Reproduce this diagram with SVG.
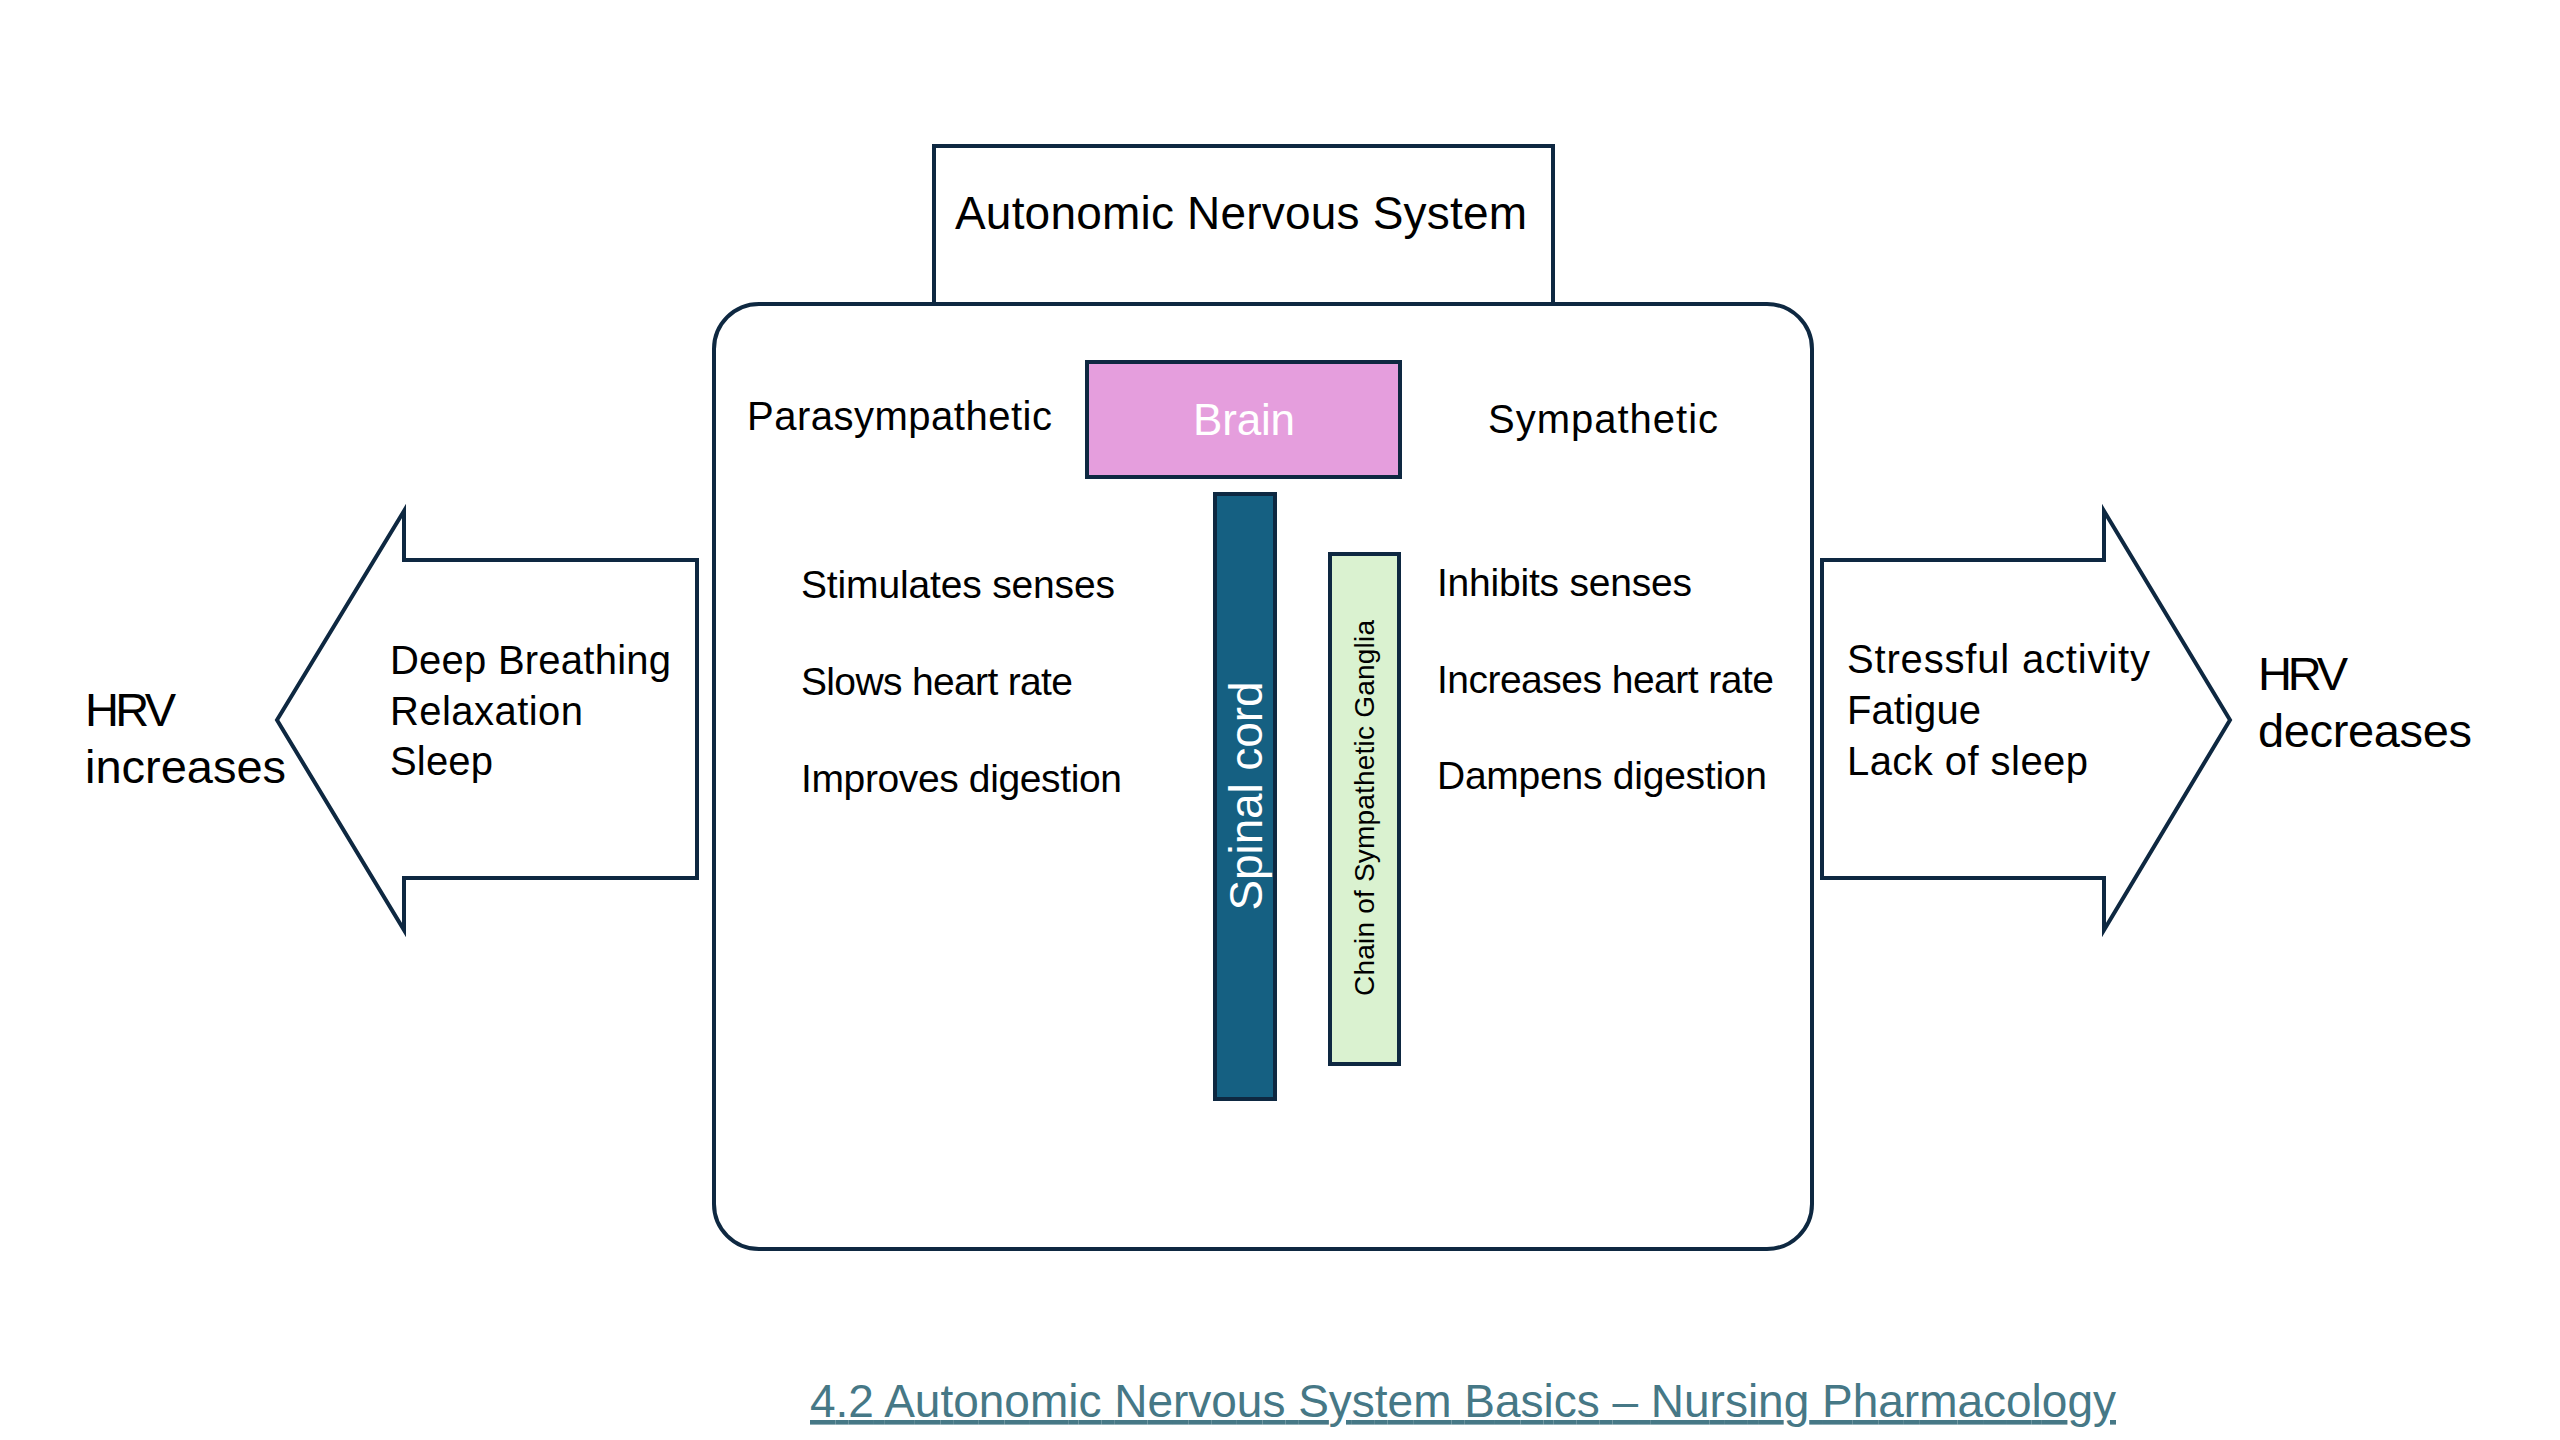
<svg xmlns="http://www.w3.org/2000/svg" width="2560" height="1440" viewBox="0 0 2560 1440">
<style>
  .ln { stroke: #0E2841; stroke-width: 4; stroke-linejoin: miter; }
  .t { font-family: "Liberation Sans", Arial, sans-serif; fill: #000000; }
  .b { font-size: 39px; }
  .a { font-size: 40px; }
  .h { font-size: 47px; }
</style>
<rect x="0" y="0" width="2560" height="1440" fill="#FFFFFF"/>

<g id="connectors">
  <polygon id="arrow-left" class="ln" fill="#FFFFFF" points="277,720 404,511 404,560 697,560 697,878 404,878 404,930"/>
  <polygon id="arrow-right" class="ln" fill="#FFFFFF" points="1822,560 2104,560 2104,511 2230,720 2104,930 2104,878 1822,878"/>
</g>

<g id="ans-container">
  <rect class="ln" fill="#FFFFFF" x="714" y="304" width="1098" height="945" rx="45" ry="45"/>
</g>

<g id="title">
  <rect class="ln" fill="#FFFFFF" x="934" y="146" width="619" height="158"/>
  <line class="ln" x1="934" y1="304" x2="1553" y2="304"/>
  <text class="t" x="955" y="229" font-size="46" textLength="572">Autonomic Nervous System</text>
</g>

<g id="brain">
  <rect class="ln" fill="#E59EDD" x="1087" y="362" width="313" height="115"/>
  <text class="t" x="1244" y="435" font-size="44" style="fill:#FFFFFF" text-anchor="middle" textLength="102">Brain</text>
</g>

<g id="spinal-cord">
  <rect class="ln" fill="#156082" x="1215" y="494" width="60" height="605"/>
  <text class="t" transform="translate(1262,796) rotate(-90)" font-size="46" style="fill:#FFFFFF" text-anchor="middle" textLength="229">Spinal cord</text>
</g>

<g id="ganglia">
  <rect class="ln" fill="#DAF2D0" x="1330" y="554" width="69" height="510"/>
  <text class="t" transform="translate(1374,808) rotate(-90)" font-size="28" text-anchor="middle" textLength="376">Chain of Sympathetic Ganglia</text>
</g>

<g id="parasympathetic">
  <text class="t a" x="747" y="430" textLength="305">Parasympathetic</text>
  <text class="t b" x="801" y="598" textLength="314">Stimulates senses</text>
  <text class="t b" x="801" y="695" textLength="272">Slows heart rate</text>
  <text class="t b" x="801" y="792" textLength="321">Improves digestion</text>
</g>

<g id="sympathetic">
  <text class="t a" x="1488" y="433" textLength="230">Sympathetic</text>
  <text class="t b" x="1437" y="596" textLength="255">Inhibits senses</text>
  <text class="t b" x="1437" y="693" textLength="337">Increases heart rate</text>
  <text class="t b" x="1437" y="789" textLength="330">Dampens digestion</text>
</g>

<g id="hrv-increase-factors">
  <text class="t a" x="390" y="674" textLength="281">Deep Breathing</text>
  <text class="t a" x="390" y="725" textLength="193">Relaxation</text>
  <text class="t a" x="390" y="775" textLength="103">Sleep</text>
</g>

<g id="hrv-decrease-factors">
  <text class="t a" x="1847" y="673" textLength="303">Stressful activity</text>
  <text class="t a" x="1847" y="724" textLength="134">Fatigue</text>
  <text class="t a" x="1847" y="775" textLength="241">Lack of sleep</text>
</g>

<g id="hrv-increases">
  <text class="t h" x="85" y="726" textLength="91">HRV</text>
  <text class="t h" x="85" y="783" textLength="201">increases</text>
</g>

<g id="hrv-decreases">
  <text class="t h" x="2258" y="690" textLength="90">HRV</text>
  <text class="t h" x="2258" y="747" textLength="214">decreases</text>
</g>

<g id="source-link">
  <text class="t" x="810" y="1417" font-size="46" style="fill:#467886" text-decoration="underline" textLength="1306">4.2 Autonomic Nervous System Basics – Nursing Pharmacology</text>
</g>
</svg>
